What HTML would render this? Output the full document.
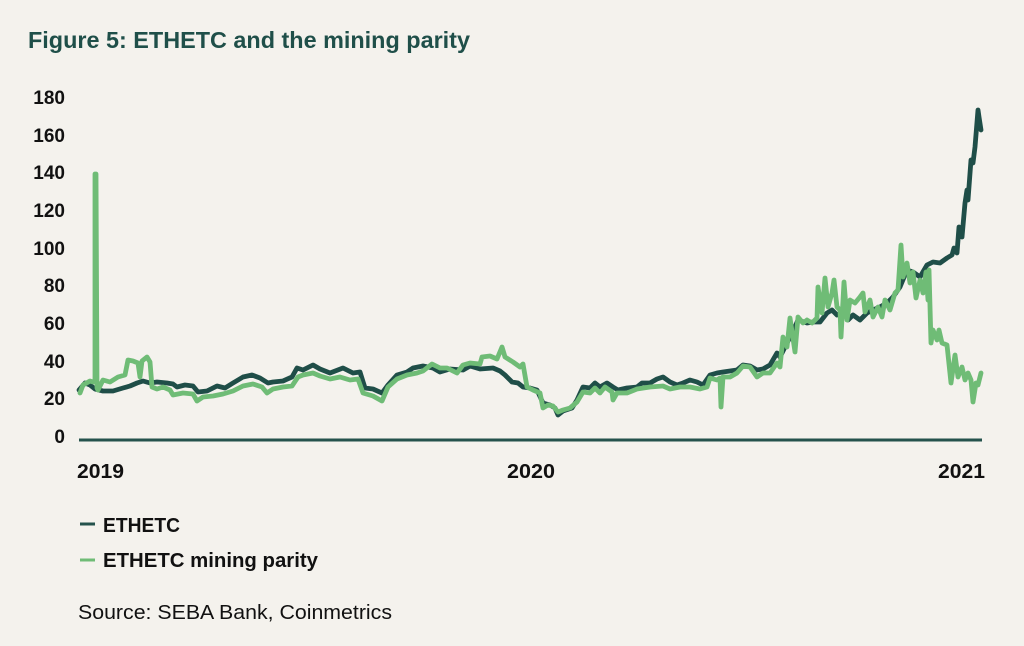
<!DOCTYPE html>
<html>
<head>
<meta charset="utf-8">
<style>
html,body{margin:0;padding:0;background:#f4f2ed;}
svg{display:block;}
</style>
</head>
<body>
<svg width="1024" height="646" viewBox="0 0 1024 646" xmlns="http://www.w3.org/2000/svg">
<rect x="0" y="0" width="1024" height="646" fill="#f4f2ed"/>
<text x="28" y="48" font-family="Liberation Sans, sans-serif" font-weight="bold" font-size="23" fill="#1f4f49" textLength="442" lengthAdjust="spacingAndGlyphs">Figure 5: ETHETC and the mining parity</text>

<g font-family="Liberation Sans, sans-serif" font-weight="bold" font-size="19" fill="#111" text-anchor="end">
<text x="65" y="104">180</text>
<text x="65" y="142">160</text>
<text x="65" y="179">140</text>
<text x="65" y="217">120</text>
<text x="65" y="255">100</text>
<text x="65" y="292">80</text>
<text x="65" y="330">60</text>
<text x="65" y="368">40</text>
<text x="65" y="405">20</text>
<text x="65" y="443">0</text>
</g>

<line x1="79" y1="440" x2="982" y2="440" stroke="#24524c" stroke-width="3"/>

<g font-family="Liberation Sans, sans-serif" font-weight="bold" font-size="20" fill="#111">
<text x="77" y="478" textLength="47" lengthAdjust="spacingAndGlyphs">2019</text>
<text x="507" y="478" textLength="48" lengthAdjust="spacingAndGlyphs">2020</text>
<text x="938" y="478" textLength="47" lengthAdjust="spacingAndGlyphs">2021</text>
</g>

<polyline fill="none" stroke="#1f4e48" stroke-width="4.8" stroke-linejoin="round" stroke-linecap="round" points="79,390 85,383 90,385 95,389 103,391 113,391 123,388 130,386 137,383 143,381 150,383 157,382 167,383 173,384 177,387 185,385 193,386 198,392 207,391 217,386 225,388 233,383 243,377 252,375 260,378 268,383 273,382 283,381 292,377 297,368 303,370 313,365 320,369 330,373 343,368 353,373 360,372 365,388 373,389 382,393 388,385 397,375 407,372 413,368 423,366 433,368 440,372 450,369 463,370 470,366 480,369 493,368 500,371 505,375 512,382 518,383 523,387 530,388 537,390 543,403 550,405 555,408 558,415 563,411 572,408 577,400 583,387 590,388 595,383 600,387 607,383 613,387 618,390 627,388 637,387 642,383 650,383 657,379 663,377 670,382 677,385 683,383 690,380 697,382 703,385 710,375 717,373 723,372 730,371 737,370 743,365 750,366 757,370 763,369 770,365 777,353 780,357 787,343 795,327 798,320 807,323 813,322 820,322 827,313 832,310 837,315 843,312 848,320 853,315 860,320 867,313 873,310 880,307 887,303 893,297 900,287 907,270 913,272 920,277 927,265 933,262 940,263 947,258 952,255 954,248 957,253 959,227 962,237 965,203 967,190 968,200 971,160 973,163 975,147 978,110 979,117 981,130"/>

<polyline fill="none" stroke="#6fbc76" stroke-width="4.8" stroke-linejoin="round" stroke-linecap="round" points="80,393 83,385 90,381 93,382 95,382 95,174 96,174 97,388 98,390 103,380 110,382 118,377 125,375 128,360 133,361 138,363 140,377 142,361 147,357 150,362 152,387 157,389 163,387 170,390 173,395 183,393 193,394 197,401 203,397 213,396 223,394 233,391 243,386 253,384 262,387 267,393 273,389 283,387 292,386 298,377 303,375 313,373 320,376 330,379 340,377 350,380 358,379 363,393 373,396 382,401 388,387 397,379 407,375 417,373 423,371 432,364 440,368 447,368 457,373 463,365 470,363 480,364 482,357 490,356 497,359 502,347 505,357 513,362 520,367 523,364 527,387 533,390 540,393 543,408 548,405 553,406 558,412 563,410 570,408 577,402 583,392 590,393 595,388 600,393 605,387 612,392 613,400 617,393 627,393 637,389 650,387 663,386 670,389 680,387 690,387 700,389 707,387 710,378 717,380 720,378 721,407 723,377 730,377 737,373 743,366 750,367 757,377 763,373 770,373 777,363 780,367 783,337 787,347 790,318 795,352 798,317 803,323 807,320 812,323 817,318 818,287 822,313 825,278 828,307 832,293 834,280 837,307 840,310 841,337 844,282 847,320 850,300 855,303 860,297 863,293 865,312 870,300 873,317 878,307 882,317 885,300 890,310 895,293 898,290 901,245 903,277 907,263 910,283 913,272 916,298 920,280 923,293 926,272 928,300 929,270 931,343 933,330 937,340 939,330 942,343 947,345 951,383 955,355 958,377 962,367 965,380 968,373 971,380 973,402 976,383 978,385 981,373"/>

<line x1="80" y1="524" x2="95" y2="524" stroke="#24524c" stroke-width="3"/>
<line x1="80" y1="560" x2="95" y2="560" stroke="#6fbc76" stroke-width="3"/>
<g font-family="Liberation Sans, sans-serif" font-weight="bold" font-size="20" fill="#111">
<text x="103" y="532" textLength="77" lengthAdjust="spacingAndGlyphs">ETHETC</text>
<text x="103" y="567" textLength="215" lengthAdjust="spacingAndGlyphs">ETHETC mining parity</text>
</g>
<text x="78" y="619" font-family="Liberation Sans, sans-serif" font-size="20" fill="#111" textLength="314" lengthAdjust="spacingAndGlyphs">Source: SEBA Bank, Coinmetrics</text>
</svg>
</body>
</html>
